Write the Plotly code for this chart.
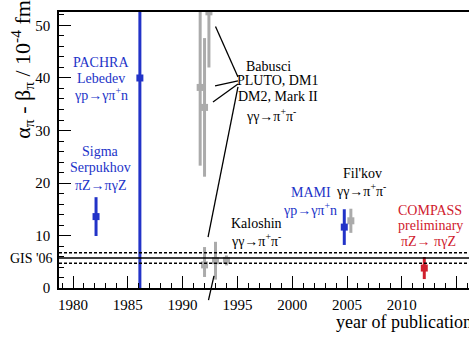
import plotly.graph_objects as go

# --- measurements of alpha_pi - beta_pi (units of 1e-4 fm^3) ---
blue_names = ["PACHRA Lebedev", "Sigma Serpukhov", "MAMI"]
blue_years = [1986.1, 1982.1, 2004.75]
blue_vals = [40.0, 13.6, 11.6]
blue_err = [41.0, 3.7, 3.4]

gray_names = ["PLUTO", "DM1", "DM2", "Mark II", "Donoghue Mark II", "Kaloshin", "Fil'kov"]
gray_years = [1991.6, 1992.0, 1992.4, 1992.0, 1993.0, 1994.0, 2005.35]
gray_vals = [38.2, 34.4, 52.6, 4.4, 5.2, 5.25, 12.8]
gray_err_plus = [14.9, 13.2, 10.6, 3.4, 3.6, 0.95, 2.3]
gray_err_minus = [14.9, 13.2, 10.6, 2.3, 3.6, 0.95, 2.3]

red_names = ["COMPASS preliminary"]
red_years = [2012.05]
red_vals = [3.8]
red_err = [2.1]

# ChPT prediction (GIS '06) with its uncertainty band
gis_value = 5.7
gis_err = 1.0

x_range = [1978.72, 2016.13]
y_range = [0.0, 52.57]

BLUE = "#2233c8"
GRAY = "#ababab"
RED = "#d0202e"
SERIF = "Liberation Serif"


def to_paper(year, value):
    px = (year - x_range[0]) / (x_range[1] - x_range[0])
    py = (value - y_range[0]) / (y_range[1] - y_range[0])
    return px, py


def points(years, vals, plus, minus, color):
    return go.Scatter(
        x=years, y=vals, mode="markers",
        marker=dict(symbol="square", size=7, color=color),
        error_y=dict(type="data", array=plus, arrayminus=minus, symmetric=False,
                     color=color, thickness=3, width=0),
        showlegend=False, hoverinfo="skip",
    )


fig = go.Figure()
fig.add_trace(points(gray_years, gray_vals, gray_err_plus, gray_err_minus, GRAY))
fig.add_trace(points(blue_years, blue_vals, blue_err, blue_err, BLUE))
fig.add_trace(points(red_years, red_vals, red_err, red_err, RED))

shapes = []
# GIS '06 central value and band edges
shapes.append(dict(type="line", xref="paper", yref="y", x0=0, x1=1, y0=gis_value, y1=gis_value,
                   line=dict(color="black", width=1.5)))
for v in (gis_value + gis_err, gis_value - gis_err):
    shapes.append(dict(type="line", xref="paper", yref="y", x0=0, x1=1, y0=v, y1=v,
                       line=dict(color="black", width=1.5, dash="3px,2px")))

# leader lines from the labels to the points
leaders = [
    ((1995.05, 40.19), (1993.0, 49.81)),
    ((1995.05, 39.43), (1992.96, 38.48)),
    ((1995.05, 38.86), (1992.77, 35.43)),
    ((1995.05, 38.29), (1992.32, 9.71)),
    ((1992.36, -2.29), (1992.86, 2.29)),
]
for (a, b) in leaders:
    x0, y0 = to_paper(*a)
    x1, y1 = to_paper(*b)
    shapes.append(dict(type="line", xref="paper", yref="paper", x0=x0, y0=y0, x1=x1, y1=y1,
                       line=dict(color="black", width=1.3)))

annotations = []


def label(x, y, text, color="black", size=14):
    annotations.append(dict(x=x, y=y, xref="x", yref="y", text=text, showarrow=False,
                            xanchor="center", yanchor="middle", borderpad=0,
                            font=dict(family=SERIF, size=size, color=color)))


label(1982.55, 42.9, "PACHRA", BLUE)
label(1982.55, 39.9, "Lebedev", BLUE)
label(1982.55, 37.0, "γp→γπ<sup>+</sup>n", BLUE)
label(1982.55, 26.0, "Sigma", BLUE)
label(1982.55, 22.9, "Serpukhov", BLUE)
label(1982.55, 19.6, "πZ→πγZ", BLUE)
label(1997.8, 42.2, "Babusci")
label(1998.7, 39.6, "PLUTO, DM1")
label(1998.7, 36.4, "DM2, Mark II")
label(1998.1, 33.0, "γγ→π<sup>+</sup>π<sup>-</sup>")
label(1996.7, 12.3, "Kaloshin")
label(1996.7, 9.1, "γγ→π<sup>+</sup>π<sup>-</sup>")
label(2001.7, 18.1, "MAMI", BLUE)
label(2001.6, 15.1, "γp→γπ<sup>+</sup>n", BLUE)
label(2006.4, 21.8, "Fil'kov")
label(2006.3, 18.6, "γγ→π<sup>+</sup>π<sup>-</sup>")
label(2012.6, 14.7, "COMPASS", RED)
label(2012.6, 11.9, "preliminary", RED)
label(2012.4, 8.8, "πZ→ πγZ", RED)
label(1993.2, -5.4, "Donoghue")
label(1993.2, -8.5, "Mark II")

annotations.append(dict(x=0, y=gis_value, xref="paper", yref="y", text="GIS '06",
                        showarrow=False, xanchor="right", yanchor="middle", xshift=-5,
                        borderpad=0, font=dict(family=SERIF, size=14, color="black")))
annotations.append(dict(x=-0.09, y=0.536, xref="paper", yref="paper", textangle=-90,
                        text="α<sub>π</sub> - β<sub>π</sub> / 10<sup>-4</sup> fm<sup>3</sup>",
                        showarrow=False, xanchor="center", yanchor="bottom", borderpad=0,
                        font=dict(family=SERIF, size=22, color="black")))
annotations.append(dict(x=2003.9, y=-0.122, xref="x", yref="paper", text="year of publication",
                        showarrow=False, xanchor="left", yanchor="middle", borderpad=0,
                        font=dict(family=SERIF, size=18, color="black")))

axis_common = dict(
    showline=True, linecolor="black", linewidth=1.5,
    ticks="inside", ticklen=12, tickwidth=1.3, tickcolor="black",
    showgrid=False, zeroline=False, automargin=False,
    tickfont=dict(family=SERIF, size=15, color="black"),
)

fig.update_layout(
    template="none",
    width=469, height=338,
    margin=dict(l=59, r=0, t=12, b=50),
    paper_bgcolor="white", plot_bgcolor="white",
    font=dict(family=SERIF),
    xaxis=dict(range=x_range, dtick=5, tick0=1980, mirror=True,
               minor=dict(dtick=1, tick0=1980, ticks="inside", ticklen=5,
                          tickwidth=1.2, tickcolor="black"),
               ticklabelstandoff=2, **axis_common),
    yaxis=dict(range=y_range, dtick=10, tick0=0,
               minor=dict(dtick=2, tick0=0, ticks="inside", ticklen=5,
                          tickwidth=1.2, tickcolor="black"),
               ticklabelstandoff=4, **axis_common),
    shapes=shapes,
    annotations=annotations,
)

fig.write_html("out.html")
